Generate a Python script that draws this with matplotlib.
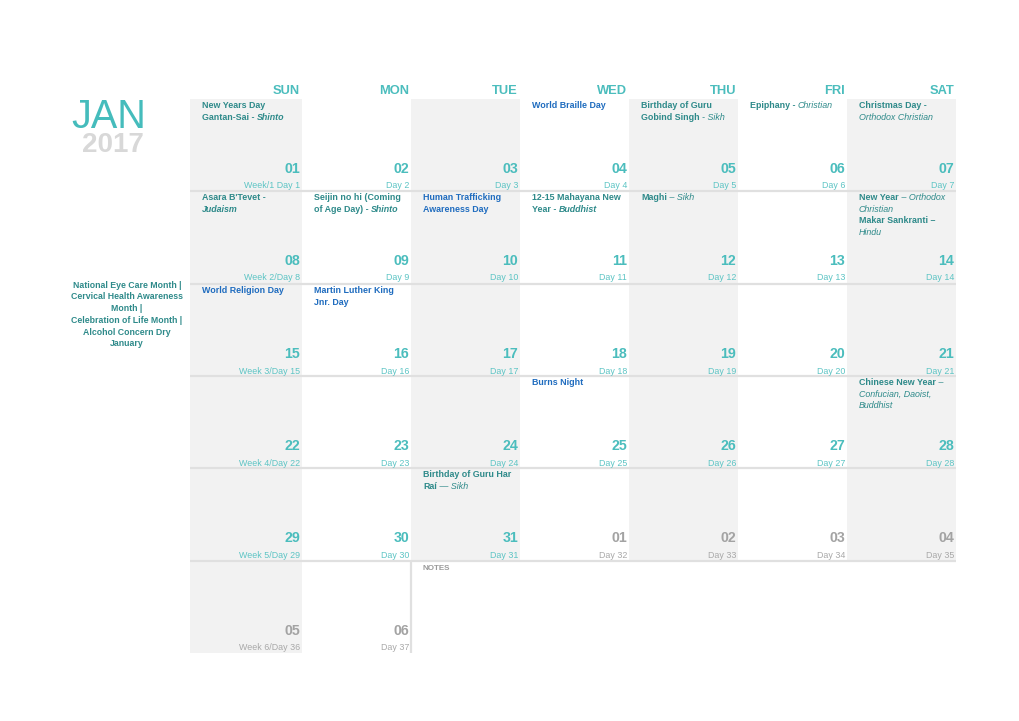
import matplotlib
matplotlib.use("Agg")
import matplotlib.pyplot as plt

plt.rcParams['font.family'] = ['Liberation Sans', 'DejaVu Sans']

# --- data ---
MONTH = "JAN"
YEAR = "2017"
DAY_NAMES = ["SUN", "MON", "TUE", "WED", "THU", "FRI", "SAT"]
DATES = [f"{d:02d}" for d in range(1, 32)] + ["01", "02", "03", "04", "05", "06"]
IN_MONTH = [True] * 31 + [False] * 6
DAY_LABELS = [f"Day {d}" for d in range(1, 38)]
DAY_LABELS[0] = "Week/1 Day 1"
DAY_LABELS[7] = "Week 2/Day 8"
DAY_LABELS[14] = "Week 3/Day 15"
DAY_LABELS[21] = "Week 4/Day 22"
DAY_LABELS[28] = "Week 5/Day 29"
DAY_LABELS[35] = "Week 6/Day 36"

SIDE_NOTES = ["National Eye Care Month |", "Cervical Health Awareness", "Month |",
              "Celebration of Life Month |", "Alcohol Concern Dry", "January"]

# events: cell index -> (colour kind, lines of (text, style) segments)
EVENTS = {
    0: ("faith", [[("New Years Day", "b")], [("Gantan-Sai - ", "b"), ("Shinto", "bi")]]),
    3: ("obs", [[("World Braille Day", "b")]]),
    4: ("faith", [[("Birthday of Guru", "b")], [("Gobind Singh ", "b"), ("- Sikh", "i")]]),
    5: ("faith", [[("Epiphany - ", "b"), ("Christian", "i")]]),
    6: ("faith", [[("Christmas Day -", "b")], [("Orthodox Christian", "i")]]),
    7: ("faith", [[("Asara B'Tevet -", "b")], [("Judaism", "bi")]]),
    8: ("faith", [[("Seijin no hi (Coming", "b")], [("of Age Day) - ", "b"), ("Shinto", "bi")]]),
    9: ("obs", [[("Human Trafficking", "b")], [("Awareness Day", "b")]]),
    10: ("faith", [[("12-15 Mahayana New", "b")], [("Year - ", "b"), ("Buddhist", "bi")]]),
    11: ("faith", [[("Maghi", "b"), (" – Sikh", "i")]]),
    13: ("faith", [[("New Year", "b"), (" – Orthodox", "i")], [("Christian", "i")],
                   [("Makar Sankranti –", "b")], [("Hindu", "i")]]),
    14: ("obs", [[("World Religion Day", "b")]]),
    15: ("obs", [[("Martin Luther King", "b")], [("Jnr. Day", "b")]]),
    24: ("obs", [[("Burns Night", "b")]]),
    27: ("faith", [[("Chinese New Year", "b"), (" –", "i")], [("Confucian, Daoist,", "i")],
                   [("Buddhist", "i")]]),
    30: ("faith", [[("Birthday of Guru Har", "b")], [("Raí", "b"), (" — Sikh", "i")]]),
}

# --- layout / style ---
COL_EDGES = [190, 302, 411, 520, 629, 738, 847, 956]
ROW_EDGES = [99, 191, 284, 376, 468, 561, 653]
TEAL = "#4bbdbd"
TEAL_LIGHT = "#5cc4c4"
GREY_NUM = "#a3a3a3"
SHADE = "#f2f2f2"
LINE = "#e0e0e0"
EVENT_COLORS = {"faith": "#2e8a8a", "obs": "#1f6cbf"}
STYLES = {"b": ("bold", "normal"), "bi": ("bold", "italic"), "i": ("normal", "italic")}

fig = plt.figure(figsize=(10.2, 7.21), dpi=100)
ax = fig.add_axes([0, 0, 1, 1])
ax.set_xlim(0, 1020)
ax.set_ylim(721, 0)
ax.axis("off")

# shaded columns
n_cells = len(DATES)
for i in range(n_cells):
    r, c = divmod(i, 7)
    if c % 2 == 0:
        ax.bar(COL_EDGES[c], ROW_EDGES[r + 1] - ROW_EDGES[r], width=COL_EDGES[c + 1] - COL_EDGES[c],
               bottom=ROW_EDGES[r], align="edge", color=SHADE, lw=0, zorder=0)

# separators
ax.hlines(ROW_EDGES[1:6], COL_EDGES[0], COL_EDGES[-1], color=LINE, lw=1.6, zorder=1)
ax.vlines(COL_EDGES[2], ROW_EDGES[5], ROW_EDGES[6], color=LINE, lw=1.6, zorder=1)

# header
for c, name in enumerate(DAY_NAMES):
    ax.text(COL_EDGES[c + 1] - 2, 91, name, ha="right", va="center", fontsize=9.3,
            fontweight="bold", color=TEAL)

ax.text(146, 128, MONTH, ha="right", va="baseline", fontsize=28.5, color="#45bcbc")
ax.text(144, 152, YEAR, ha="right", va="baseline", fontsize=20, fontweight="bold", color="#d8d8d8")

for k, line in enumerate(SIDE_NOTES):
    ax.text(127, 285 + k * 11.8, line, ha="center", va="center", fontsize=6.3,
            fontweight="bold", color="#2e8a8a")

# cells
for i in range(n_cells):
    r, c = divmod(i, 7)
    top = ROW_EDGES[r]
    right = COL_EDGES[c + 1] - 2
    num_col = TEAL if IN_MONTH[i] else GREY_NUM
    lab_col = TEAL_LIGHT if IN_MONTH[i] else "#a8a8a8"
    ax.text(right, top + 70, DATES[i], ha="right", va="center", fontsize=10.2,
            fontweight="bold", color=num_col)
    ax.text(right, top + 87, DAY_LABELS[i], ha="right", va="center", fontsize=6.4, color=lab_col)

    if i in EVENTS:
        kind, lines = EVENTS[i]
        colr = EVENT_COLORS[kind]
        for j, segs in enumerate(lines):
            y = top + 2 + j * 11.6
            prev = None
            for text, st in segs:
                w, s = STYLES[st]
                if prev is None:
                    prev = ax.text(COL_EDGES[c] + 12, y, text, ha="left", va="top",
                                   fontsize=6.4, fontweight=w, fontstyle=s, color=colr)
                else:
                    prev = ax.annotate(text, xy=(1, 0), xycoords=prev, ha="left", va="bottom",
                                       fontsize=6.4, fontweight=w, fontstyle=s, color=colr)

ax.text(COL_EDGES[2] + 12, ROW_EDGES[5] + 7, "NOTES", ha="left", va="center", fontsize=5.8,
        fontweight="bold", color="#9a9a9a")

fig.savefig("out.png", dpi=100)
